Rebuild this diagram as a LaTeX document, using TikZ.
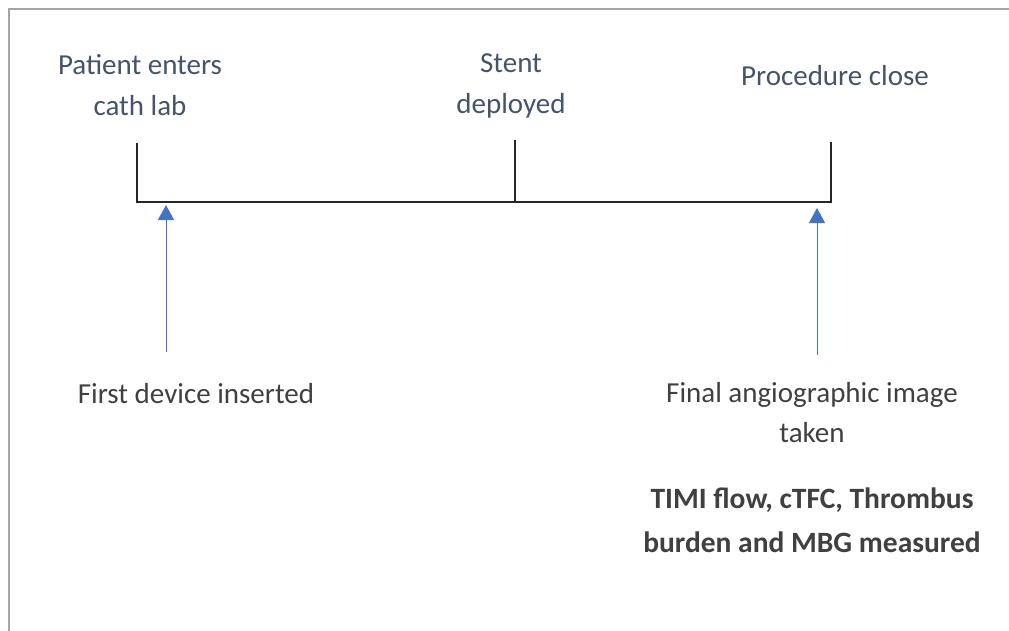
\documentclass[tikz,border=0pt]{standalone}
\usepackage{fontspec}
\setmainfont{Carlito}
\definecolor{titleblue}{HTML}{44546A}
\definecolor{textgray}{HTML}{404040}
\definecolor{arrowblue}{HTML}{4472C4}
\definecolor{framegray}{HTML}{A6A6A6}
\tikzset{
	event/.style={align=center,text=titleblue,inner sep=0pt,font=\fontsize{29}{41}\selectfont},
	note/.style={align=center,text=textgray,inner sep=0pt,font=\fontsize{29}{40}\selectfont},
	marker/.style={->,>={Triangle[length=15pt,width=16pt]},color=arrowblue,line width=1pt}
}
\usetikzlibrary{arrows.meta}
\begin{document}
\begin{tikzpicture}[x=1pt,y=-1pt]
		\useasboundingbox (0,0) rectangle (1009,630);
		\draw[color=framegray,line width=2.5pt] (9,640) -- (9,9) -- (1020,9);
		% time line
		\coordinate (start) at (137,202);
		\coordinate (stent) at (515,202);
		\coordinate (close) at (831,202);
		\coordinate (starttop) at (137,143);
		\coordinate (stenttop) at (515,140);
		\coordinate (closetop) at (831,142);
		\draw[line width=1.5pt,color=black!85] (starttop) -- (start) -- (stent) -- (close) -- (closetop);
		\draw[line width=1.5pt,color=black!85] (stent) -- (stenttop);
		% labels above
		\node[event] (enter) at (140,85) {Patient enters\\cath lab};
		\node[event] (deploy) at (511,86) {Stent\\deployed};
		\node[event,anchor=base] (proc) at (835,85) {Procedure close};
		% arrows
		\coordinate (devbase) at (166,352);
		\coordinate (devtip) at (166,205);
		\coordinate (imgbase) at (817,355);
		\coordinate (imgtip) at (817,208);
		\draw[marker] (devbase) -- (devtip);
		\draw[marker] (imgbase) -- (imgtip);
		% labels below
		\node[note,anchor=base] (device) at (196,403) {First device inserted};
		\node[note,anchor=base] (image) at (812,402) {Final angiographic image};
		\node[note,anchor=base] (taken) at (812,442) {taken};
		\node[note,anchor=base,font=\fontsize{29.5}{43}\selectfont\bfseries] (timi) at (812,508) {TIMI flow, cTFC, Thrombus};
		\node[note,anchor=base,font=\fontsize{29.5}{43}\selectfont\bfseries] (mbg) at (812,552) {burden and MBG measured};
\end{tikzpicture}
\end{document}
